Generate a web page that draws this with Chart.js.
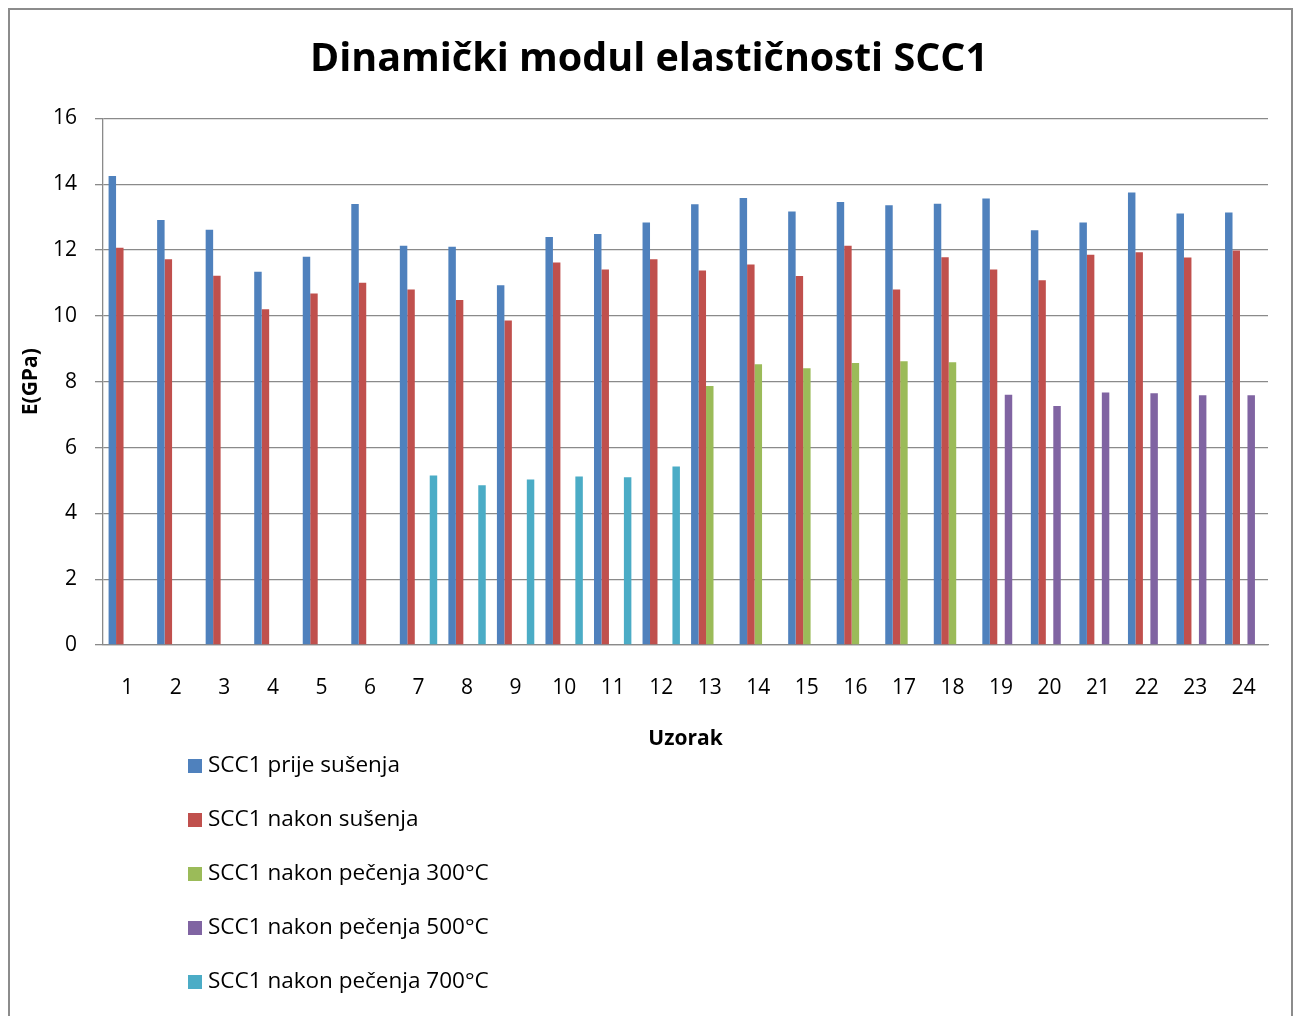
<!DOCTYPE html>
<html>
<head>
<meta charset="utf-8">
<title>Dinamički modul elastičnosti SCC1</title>
<script src="https://cdn.jsdelivr.net/npm/chart.js@4/dist/chart.umd.min.js"></script>
<style>
  html, body { margin: 0; padding: 0; background: #fff; overflow: hidden; }
  #wrap { position: relative; width: 1295px; height: 1016px; }
</style>
</head>
<body>
<div id="wrap"><canvas id="chart" width="1295" height="1016"></canvas></div>
<script>
/* ------------------------------
   DATA
------------------------------ */
const categories = ["1","2","3","4","5","6","7","8","9","10","11","12",
                    "13","14","15","16","17","18","19","20","21","22","23","24"];

const prijeSusenja = [14.25, 12.91, 12.62, 11.34, 11.80, 13.40, 12.13, 12.10, 10.93, 12.40, 12.49, 12.84,
                      13.39, 13.58, 13.17, 13.46, 13.36, 13.41, 13.57, 12.60, 12.84, 13.75, 13.11, 13.14];
const nakonSusenja = [12.07, 11.72, 11.22, 10.20, 10.68, 11.01, 10.80, 10.48, 9.86, 11.62, 11.41, 11.72,
                      11.38, 11.56, 11.21, 12.13, 10.80, 11.78, 11.41, 11.08, 11.86, 11.93, 11.77, 11.99];
const pecenje300 = [null, null, null, null, null, null, null, null, null, null, null, null,
                    7.87, 8.53, 8.41, 8.57, 8.62, 8.59, null, null, null, null, null, null];
const pecenje500 = [null, null, null, null, null, null, null, null, null, null, null, null,
                    null, null, null, null, null, null, 7.60, 7.26, 7.67, 7.65, 7.59, 7.59];
const pecenje700 = [null, null, null, null, null, null, 5.15, 4.85, 5.03, 5.12, 5.10, 5.42,
                    null, null, null, null, null, null, null, null, null, null, null, null];

const yTicks = [0, 2, 4, 6, 8, 10, 12, 14, 16];

const seriesNames = ["SCC1 prije sušenja", "SCC1 nakon sušenja", "SCC1 nakon pečenja 300°C",
                     "SCC1 nakon pečenja 500°C", "SCC1 nakon pečenja 700°C"];
const seriesColors = ["#4F81BD", "#C0504D", "#9BBB59", "#8064A2", "#4BACC6"];
const seriesData = [prijeSusenja, nakonSusenja, pecenje300, pecenje500, pecenje700];

/* ------------------------------
   PLUGINS
------------------------------ */
const FONT = "'Open Sans', sans-serif";
const GRID = "#8a8a8a";

// outer frame of the chart
const framePlugin = {
  id: "frame",
  beforeDraw(chart) {
    const c = chart.ctx;
    c.save();
    c.fillStyle = "#fff";
    c.fillRect(0, 0, chart.width, chart.height);
    c.strokeStyle = "#8c8c8c";
    c.lineWidth = 2;
    c.strokeRect(9, 9, 1283, 1040);
    c.restore();
  }
};

// vertical legend under the x axis
const listLegend = {
  id: "listLegend",
  afterDraw(chart) {
    const c = chart.ctx;
    c.save();
    c.font = "22.5px " + FONT;
    c.textBaseline = "middle";
    chart.data.datasets.forEach((ds, i) => {
      const y = 766 + i * 54;
      c.fillStyle = ds.backgroundColor;
      c.fillRect(188, y - 7, 14, 14);
      c.fillStyle = "#000";
      c.fillText(ds.label, 208, y);
    });
    c.restore();
  }
};

/* ------------------------------
   CHART
------------------------------ */
new Chart(document.getElementById("chart"), {
  type: "bar",
  data: {
    labels: categories,
    datasets: seriesData.map((d, i) => ({
      label: seriesNames[i],
      data: d,
      backgroundColor: seriesColors[i],
      borderWidth: 0,
      categoryPercentage: 0.77,
      barPercentage: 1.0
    }))
  },
  options: {
    responsive: false,
    animation: false,
    layout: { padding: { left: 30, right: 27, top: 0, bottom: 256 } },
    plugins: {
      legend: { display: false },
      tooltip: { enabled: false },
      title: {
        display: true,
        text: "Dinamički modul elastičnosti SCC1",
        color: "#000",
        font: { family: FONT, size: 39.5, weight: "bold" },
        padding: { top: 36, bottom: 35 }
      }
    },
    scales: {
      x: {
        grid: { display: false, drawTicks: false },
        border: { display: true, color: GRID, width: 1.3 },
        ticks: { color: "#000", font: { family: FONT, size: 21 }, padding: 30, maxRotation: 0 },
        title: {
          display: true, text: "Uzorak", color: "#000",
          font: { family: FONT, size: 21, weight: "bold" },
          padding: { top: 0, bottom: 8 }
        },
        afterFit(axis) { axis.height = 115; }
      },
      y: {
        min: 0, max: 16,
        afterBuildTicks(axis) { axis.ticks = yTicks.map(v => ({ value: v })); },
        grid: { color: GRID, lineWidth: 1.3, tickLength: 8 },
        border: { display: true, color: GRID, width: 1.3 },
        ticks: { color: "#000", font: { family: FONT, size: 21 }, padding: 18 },
        title: {
          display: true, text: "E(GPa)", color: "#000",
          font: { family: FONT, size: 21, weight: "bold" },
          padding: { top: -12, bottom: 0 }
        },
        afterFit(axis) { axis.width = 73; }
      }
    }
  },
  plugins: [framePlugin, listLegend]
});
</script>
</body>
</html>
